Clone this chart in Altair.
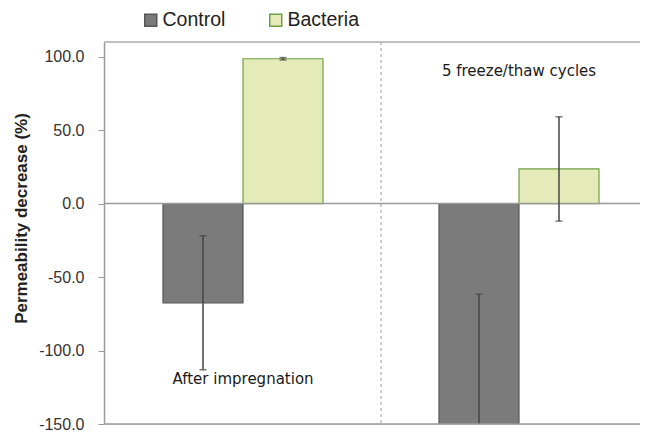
import altair as alt
import pandas as pd

# ---- data ----
groups = ["After impregnation", "5 freeze/thaw cycles"]
series = ["Control", "Bacteria"]
control_mean = [-67.5, -165.0]
control_err = [45.6, 103.4]
bacteria_mean = [98.6, 23.6]
bacteria_err = [0.8, 35.5]
annotation_y = [-119.6, 90.0]
y_ticks = [-150, -100, -50, 0, 50, 100]

fills = ["#7b7b7b", "#e5ebb8"]
strokes = ["#575757", "#6f9e46"]

rows = []
for i, g in enumerate(groups):
    for s, m, e in (("Control", control_mean[i], control_err[i]),
                    ("Bacteria", bacteria_mean[i], bacteria_err[i])):
        rows.append({"group": g, "series": s, "mean": m, "lo": m - e, "hi": m + e})
df = pd.DataFrame(rows)
ann = pd.DataFrame({"group": groups, "ypos": annotation_y})
divider = pd.DataFrame({"group": [groups[1]]})

W, H = 536, 382

xscale = alt.Scale(domain=groups, range=[1, 553], paddingInner=0, paddingOuter=0)
offscale = alt.Scale(domain=series, paddingInner=0, paddingOuter=0.725)
yscale = alt.Scale(domain=[-150, 110], nice=False, zero=False)

X = alt.X("group:N", scale=xscale, axis=None, sort=groups)
XO = alt.XOffset("series:N", scale=offscale, sort=series)

legend_kw = dict(
    orient="none", legendX=37, legendY=-32, direction="horizontal", columns=2,
    title=None, symbolType="square", symbolSize=144, symbolStrokeWidth=1.5,
    labelFont="Liberation Sans", labelFontSize=19.5, labelColor="#222",
    columnPadding=40, labelOffset=2, padding=0,
)

yaxis = alt.Axis(
    values=y_ticks, grid=False,
    labelExpr="datum.value < 0 ? '-' + format(-datum.value, '.1f') : format(datum.value, '.1f')",
    domainColor="#9a9a9a", domainWidth=1.5, tickColor="#9a9a9a", tickSize=6,
    labelFont="Liberation Sans", labelFontSize=16, labelColor="#333",
    labelPadding=14,
    title="Permeability decrease (%)", titleFont="Liberation Sans",
    titleFontSize=17, titleFontWeight="bold", titleColor="#222",
    titleAngle=-90, titleX=-83, titleY=176, titleAlign="center",
    titleBaseline="middle",
)

base = alt.Chart(df)

bars = base.mark_bar(strokeWidth=1.2, clip=True).encode(
    x=X, xOffset=XO,
    y=alt.Y("mean:Q", scale=yscale, axis=yaxis, stack=None),
    fill=alt.Fill("series:N", scale=alt.Scale(domain=series, range=fills),
                  legend=alt.Legend(**legend_kw)),
    stroke=alt.Stroke("series:N", scale=alt.Scale(domain=series, range=strokes),
                      legend=alt.Legend(**legend_kw)),
)

err = base.mark_rule(color="#444", strokeWidth=1.5, clip=True).encode(
    x=X, xOffset=XO, y=alt.Y("lo:Q", scale=yscale), y2="hi:Q"
)
cap_hi = base.mark_tick(color="#444", thickness=1.5, size=7, clip=True).encode(
    x=X, xOffset=XO, y=alt.Y("hi:Q", scale=yscale)
)
cap_lo = base.mark_tick(color="#444", thickness=1.5, size=7, clip=True).encode(
    x=X, xOffset=XO, y=alt.Y("lo:Q", scale=yscale)
)

zero_line = alt.Chart(pd.DataFrame({"v": [0]})).mark_rule(
    color="#9a9a9a", strokeWidth=1.5
).encode(y=alt.Y("v:Q", scale=yscale), x=alt.value(0), x2=alt.value(W))

top_line = alt.Chart(pd.DataFrame({"v": [0]})).mark_rule(
    color="#b0b0b0", strokeWidth=1.5
).encode(y=alt.value(0), x=alt.value(0), x2=alt.value(W))

bottom_line = alt.Chart(pd.DataFrame({"v": [0]})).mark_rule(
    color="#9a9a9a", strokeWidth=1.5
).encode(y=alt.value(H), x=alt.value(0), x2=alt.value(W))

div_line = alt.Chart(divider).mark_rule(
    color="#a0a0a0", strokeWidth=1, strokeDash=[3, 3]
).encode(
    x=alt.X("group:N", scale=xscale, axis=None, bandPosition=0),
    y=alt.value(0), y2=alt.value(H),
)

labels = alt.Chart(ann).mark_text(
    font="DejaVu Sans", fontSize=15, color="#1a1a1a"
).encode(
    x=alt.X("group:N", scale=xscale, axis=None),
    y=alt.Y("ypos:Q", scale=yscale),
    text="group:N",
)

chart = alt.layer(
    top_line, div_line, bars, zero_line, err, cap_hi, cap_lo, bottom_line, labels
).properties(
    width=W, height=H,
    autosize=alt.AutoSizeParams(type="none"),
    padding={"left": 96, "top": 34, "right": 0, "bottom": 8},
).configure_view(stroke=None).configure(background="white")

chart.save("out.html", embed_options={"renderer": "svg", "actions": False})
